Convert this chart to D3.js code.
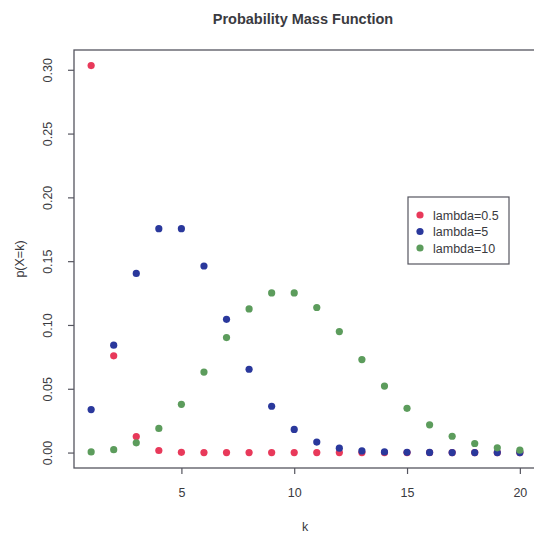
<!DOCTYPE html>
<html>
<head>
  <meta charset="UTF-8">
  <style>
    body {
      margin: 0;
      padding: 0;
      background-color: #fff;
    }
    svg {
      display: block;
      font-family: "Liberation Sans", Arial, sans-serif;
    }
    text {
      fill: #3a3a40;
    }
  </style>
</head>
<body>
<svg></svg>
<script src="https://d3js.org/d3.v7.min.js"></script>

<script>
  let width = 534, height = 535;

  // k = 1..20
  let ks = d3.range(1, 21);
  let seriesNames = ["lambda=0.5", "lambda=5", "lambda=10"];
  let lambda05 = [0.3033, 0.0758, 0.0126, 0.0016, 0.0002, 0, 0, 0, 0, 0,
                  0, 0, 0, 0, 0, 0, 0, 0, 0, 0];
  let lambda5 = [0.0337, 0.0842, 0.1404, 0.1755, 0.1755, 0.1462, 0.1044, 0.0653, 0.0363, 0.0181,
                 0.0082, 0.0034, 0.0013, 0.0005, 0.0002, 0.0001, 0, 0, 0, 0];
  let lambda10 = [0.0005, 0.0023, 0.0076, 0.0189, 0.0378, 0.0631, 0.0901, 0.1126, 0.1251, 0.1251,
                  0.1137, 0.0948, 0.0729, 0.0521, 0.0347, 0.0217, 0.0128, 0.0071, 0.0037, 0.0019];
  let xTicks = [5, 10, 15, 20];
  let yTicks = [0, 0.05, 0.10, 0.15, 0.20, 0.25, 0.30];

  let colors = ["#e8395a", "#2a389c", "#5c9c5c"];
  let allSeries = [lambda05, lambda5, lambda10];

  let svg = d3.select("svg")
      .attr("width", width)
      .attr("height", height);

  // plot box (R style 4% padding on data range); right edge runs off the picture
  let boxL = 74, boxR = 537, boxT = 50, boxB = 468;

  let x = d3.scaleLinear()
      .domain([0.24, 20.76])
      .range([boxL, boxR]);

  let y = d3.scaleLinear()
      .domain([-0.0121, 0.3155])
      .range([boxB, boxT]);

  // box
  svg.append("rect")
      .attr("x", boxL)
      .attr("y", boxT)
      .attr("width", boxR - boxL)
      .attr("height", boxB - boxT)
      .attr("fill", "none")
      .attr("stroke", "#55555f")
      .attr("stroke-width", 1.3);

  // y axis, labels rotated like R
  let yAxis = svg.append("g")
      .attr("transform", `translate(${boxL},0)`)
      .call(d3.axisLeft(y).tickValues(yTicks).tickSize(6).tickFormat(d3.format(".2f")));
  yAxis.select(".domain").remove();
  yAxis.selectAll("line").attr("stroke", "#55555f").attr("stroke-width", 1.2);
  yAxis.selectAll("text")
      .attr("font-size", "12.5px")
      .attr("fill", "#3a3a40")
      .attr("x", 0)
      .attr("dy", null)
      .attr("y", 0)
      .attr("text-anchor", "middle")
      .attr("transform", "translate(-22,0) rotate(-90)");

  // x axis
  let xAxis = svg.append("g")
      .attr("transform", `translate(0,${boxB})`)
      .call(d3.axisBottom(x).tickValues(xTicks).tickSize(6).tickPadding(14));
  xAxis.select(".domain").remove();
  xAxis.selectAll("line").attr("stroke", "#55555f").attr("stroke-width", 1.2);
  xAxis.selectAll("text")
      .attr("font-size", "12.5px")
      .attr("fill", "#3a3a40");

  // points
  allSeries.forEach((vals, i) => {
    svg.append("g")
        .selectAll("circle")
        .data(vals)
        .enter()
        .append("circle")
        .attr("cx", (d, j) => x(ks[j]))
        .attr("cy", d => y(d))
        .attr("r", 3.6)
        .attr("fill", colors[i]);
  });

  // title
  svg.append("text")
      .attr("x", 303)
      .attr("y", 24)
      .attr("text-anchor", "middle")
      .attr("font-size", "14.5px")
      .attr("font-weight", "bold")
      .text("Probability Mass Function");

  // axis titles
  svg.append("text")
      .attr("x", 305)
      .attr("y", 531)
      .attr("text-anchor", "middle")
      .attr("font-size", "12.5px")
      .text("k");

  svg.append("text")
      .attr("transform", `translate(24, ${(boxT + boxB) / 2}) rotate(-90)`)
      .attr("text-anchor", "middle")
      .attr("font-size", "12.5px")
      .text("p(X=k)");

  // legend
  let legend = svg.append("g")
      .attr("transform", "translate(408, 197)");

  legend.append("rect")
      .attr("width", 101)
      .attr("height", 67)
      .attr("fill", "#fff")
      .attr("stroke", "#55555f")
      .attr("stroke-width", 1.2);

  seriesNames.forEach((name, i) => {
    let row = legend.append("g").attr("transform", `translate(0, ${18 + i * 16.5})`);
    row.append("circle")
        .attr("cx", 12)
        .attr("cy", 0)
        .attr("r", 3.6)
        .attr("fill", colors[i]);
    row.append("text")
        .attr("x", 25)
        .attr("y", 4.5)
        .attr("font-size", "12.5px")
        .text(name);
  });
</script>
</body>
</html>
